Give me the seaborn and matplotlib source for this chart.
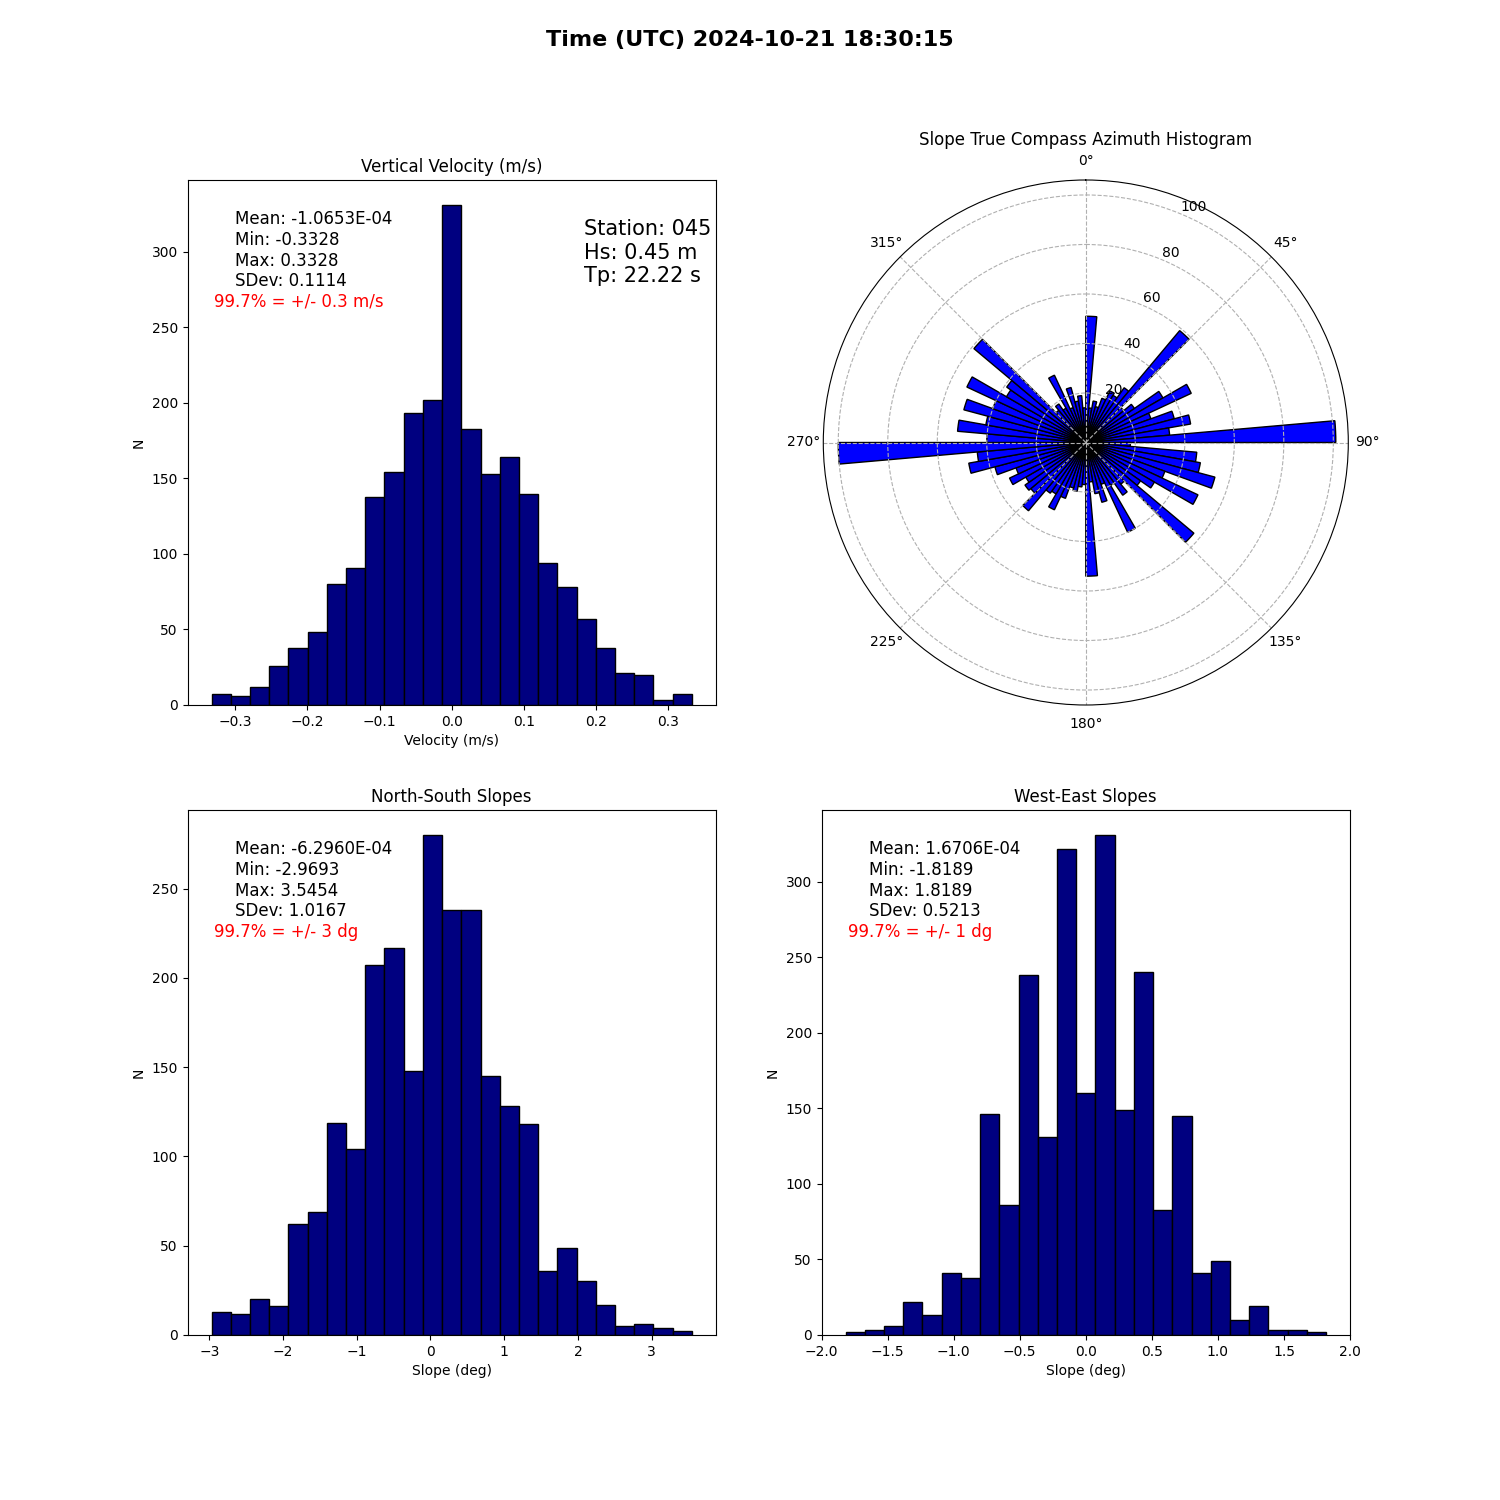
import numpy as np
import pandas as pd
import matplotlib
matplotlib.use('Agg')
import matplotlib.pyplot as plt
import seaborn as sns

# --- Data ---
TITLE = 'Time (UTC) 2024-10-21 18:30:15'

# Vertical velocity, 25 bins between min and max
vel_min, vel_max = -0.3328, 0.3328
vel_counts = [7, 6, 12, 26, 38, 48, 80, 91, 138, 154, 193, 202, 331,
              183, 153, 164, 140, 94, 78, 57, 38, 21, 20, 3, 7]
vel_stats = ['Mean: -1.0653E-04', 'Min: -0.3328', 'Max: 0.3328', 'SDev: 0.1114']
vel_conf = '99.7% = +/- 0.3 m/s'
station_info = ['Station: 045', 'Hs: 0.45 m', 'Tp: 22.22 s']

# North-South slopes, 25 bins
ns_min, ns_max = -2.9693, 3.5454
ns_counts = [13, 12, 20, 16, 62, 69, 119, 104, 207, 217, 148, 280, 238,
             238, 145, 128, 118, 36, 49, 30, 17, 5, 6, 4, 2]
ns_stats = ['Mean: -6.2960E-04', 'Min: -2.9693', 'Max: 3.5454', 'SDev: 1.0167']
ns_conf = '99.7% = +/- 3 dg'

# West-East slopes, 25 bins
we_min, we_max = -1.8189, 1.8189
we_counts = [2, 3, 6, 22, 13, 41, 38, 146, 86, 238, 131, 322, 160,
             331, 149, 240, 83, 145, 41, 49, 10, 19, 3, 3, 2]
we_stats = ['Mean: 1.6706E-04', 'Min: -1.8189', 'Max: 1.8189', 'SDev: 0.5213']
we_conf = '99.7% = +/- 1 dg'

# Slope azimuth, 5 degree bins starting at 0 (compass, clockwise)
az_bin_deg = 5
az_counts = [
    51, 14, 17, 15, 19, 23, 22, 27, 59, 20, 24, 36, 47, 28, 37, 43, 34, 101,   # 0-90
    18, 45, 47, 54, 34, 50, 32, 27, 57, 22, 26, 20, 40, 18, 25, 21, 16, 54,    # 90-180
    17, 18, 20, 19, 24, 30, 24, 25, 36, 29, 30, 28, 34, 30, 38, 48, 44, 100,   # 180-270
    40, 52, 41, 51, 40, 53, 37, 39, 59, 17, 19, 16, 30, 15, 23, 17, 19, 14,    # 270-360
]


def draw_hist(ax, counts, lo, hi, title, xlabel, stats, conf):
    edges = np.linspace(lo, hi, len(counts) + 1)
    df = pd.DataFrame({'value': (edges[:-1] + edges[1:]) / 2, 'count': counts})
    sns.histplot(data=df, x='value', weights='count', bins=list(edges), ax=ax,
                 color='navy', edgecolor='black', linewidth=1, alpha=1)
    ax.set_title(title, fontsize=12)
    ax.set_xlabel(xlabel)
    ax.set_ylabel('N')
    ax.text(0.09, 0.943, '\n'.join(stats), transform=ax.transAxes,
            fontsize=12, va='top', ha='left')
    ax.text(0.05, 0.768, conf, transform=ax.transAxes, color='red',
            fontsize=12, va='center', ha='left')


def main():
    fig = plt.figure(figsize=(15, 15), dpi=100)
    fig.suptitle(TITLE, fontsize=16, fontweight='bold')

    # Vertical velocity
    ax1 = fig.add_subplot(2, 2, 1)
    draw_hist(ax1, vel_counts, vel_min, vel_max, 'Vertical Velocity (m/s)',
              'Velocity (m/s)', vel_stats, vel_conf)
    ax1.text(0.75, 0.925, '\n'.join(station_info), transform=ax1.transAxes,
             fontsize=15, va='top', ha='left')

    # Azimuth rose
    ax2 = fig.add_subplot(2, 2, 2, projection='polar')
    ax2.set_theta_zero_location('N')
    ax2.set_theta_direction(-1)
    theta = np.deg2rad(np.arange(len(az_counts)) * az_bin_deg)
    ax2.bar(theta, az_counts, width=np.deg2rad(az_bin_deg), align='edge',
            color='blue', edgecolor='black', linewidth=1)
    ax2.grid(True, linestyle='--')
    ax2.set_title('Slope True Compass Azimuth Histogram', fontsize=12)

    # North-South slopes
    ax3 = fig.add_subplot(2, 2, 3)
    draw_hist(ax3, ns_counts, ns_min, ns_max, 'North-South Slopes',
              'Slope (deg)', ns_stats, ns_conf)

    # West-East slopes
    ax4 = fig.add_subplot(2, 2, 4)
    draw_hist(ax4, we_counts, we_min, we_max, 'West-East Slopes',
              'Slope (deg)', we_stats, we_conf)
    ax4.set_xlim(-2.0, 2.0)

    fig.savefig('out.png', dpi=100)
    plt.close(fig)


if __name__ == '__main__':
    main()
